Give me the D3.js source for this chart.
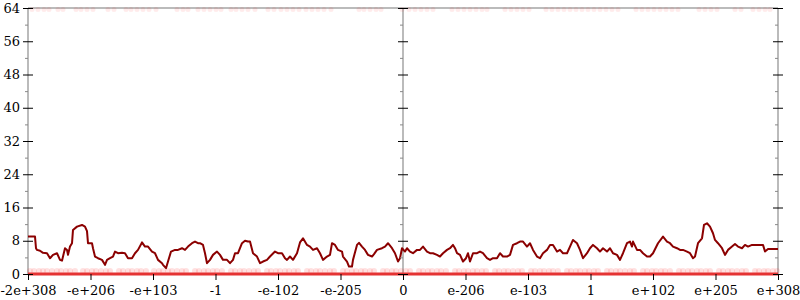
<!DOCTYPE html>
<html>
<head>
<meta charset="utf-8">
<script src="https://cdn.jsdelivr.net/npm/d3@7"></script>
<style>
  html, body { margin: 0; padding: 0; background: #fff; }
  svg { display: block; font-family: "DejaVu Serif", serif; }
</style>
</head>
<body>
<div class="chart"></div>
<script>
// tick positions along the bucket axis and their labels
const xTickPos = [0, 62.5, 125, 187.5, 250, 312.5, 375, 437.5, 500, 562.5, 625, 687.5, 750]
const xTickLabels = ['-2e+308','-e+206','-e+103','-1','-e-102','-e-205','0','e-206','e-103','1','e+102','e+205','e+308']
const yMajor = [0, 8, 16, 24, 32, 40, 48, 56, 64]
const yMinor = [4, 12, 20, 28, 36, 44, 52, 60]

// running count (dark red line)
const lineX = [
  0,7,8,9,12,15,19,22,25,29,
  32,34,37,39,40,42,44,45,49,54,
  57,59,60,64,65,67,70,74,77,79,
  82,85,87,90,94,97,100,104,107,110,
  114,117,120,124,127,130,134,135,138,140,
  143,147,150,154,157,160,164,167,170,172,
  175,177,179,182,185,189,192,195,199,202,
  205,207,210,214,217,220,222,225,229,232,
  235,239,242,247,250,254,257,259,262,265,
  269,272,275,279,282,285,289,292,295,299,
  302,304,307,310,314,315,319,321,324,325,
  329,331,334,337,340,344,346,349,354,357,
  360,364,367,370,372,374,377,379,382,385,
  389,392,395,399,402,405,409,412,415,419,
  422,425,427,429,432,435,438,440,442,445,
  449,452,455,459,462,465,469,472,475,479,
  482,485,489,492,495,499,502,505,509,512,
  515,519,522,525,529,532,535,539,542,545,
  549,552,555,559,562,565,569,572,575,579,
  582,585,589,592,595,599,602,604,605,609,
  612,615,619,622,625,630,635,639,642,645,
  649,652,655,659,662,665,667,670,674,676,
  679,682,685,687,690,694,697,700,704,707,
  710,714,717,720,724,727,732,735,737,740,
  745,750]
const lineY = [
  9.0,9.0,6.2,5.8,5.6,5.1,5.0,3.8,4.6,5.0,
  3.4,3.2,6.2,5.8,4.6,6.6,7.4,10.6,11.4,11.8,
  11.4,10.3,7.4,7.4,6.2,4.2,3.8,3.4,2.2,3.4,
  3.8,4.2,5.4,5.0,5.1,5.0,3.8,3.8,5.0,5.8,
  7.6,6.6,6.6,5.4,5.0,3.4,2.6,2.2,1.4,3.0,
  5.4,5.8,5.8,6.2,5.8,6.6,7.4,7.8,7.4,7.4,
  7.0,5.0,2.6,3.4,4.6,5.4,4.6,3.4,3.4,2.6,
  3.4,5.0,5.0,7.4,8.0,7.8,7.8,5.0,4.2,2.6,
  3.0,3.4,4.2,5.4,5.0,5.0,3.8,3.4,4.2,3.4,
  5.0,7.6,8.6,7.0,6.6,5.8,6.2,5.0,3.4,4.2,
  4.6,7.4,7.0,5.8,5.4,4.2,3.0,1.8,1.8,3.4,
  7.0,7.5,6.6,5.8,4.6,4.2,4.8,5.8,6.2,6.6,
  7.4,6.2,5.0,3.0,3.8,6.2,5.4,6.2,5.4,5.0,
  5.8,5.8,6.6,5.4,5.0,5.0,4.6,4.2,5.0,5.8,
  6.2,7.0,6.2,5.0,4.6,3.0,3.8,5.0,3.0,5.0,
  5.0,5.4,5.0,3.8,3.4,3.8,3.8,5.0,4.2,4.2,
  4.6,7.0,7.4,7.8,7.8,6.6,7.4,5.8,4.2,3.8,
  5.0,5.8,7.0,7.0,5.4,5.8,5.0,5.0,6.6,8.2,
  7.4,5.8,3.8,5.0,6.2,7.0,6.2,5.4,6.2,5.4,
  6.2,5.0,4.6,3.4,5.0,7.4,7.8,6.6,7.8,5.8,
  5.8,5.0,4.2,4.2,5.0,7.4,9.0,7.8,7.4,6.6,
  6.2,5.8,5.8,5.4,5.0,3.8,4.2,7.4,8.6,11.8,
  12.2,11.4,9.8,8.2,7.4,6.2,4.6,5.8,6.6,7.2,
  6.6,6.2,7.0,6.6,7.0,7.0,7.0,7.0,5.4,6.0,
  6.0,6.0]

// sample points sitting on 64 (top) and on 0 (bottom)
const topDots = [4,10,16,21,30,35,48,53,59,65,80,86,98,103,109,115,121,128,149,155,160,170,176,182,188,193,
  203,208,214,220,227,240,246,253,259,265,271,278,284,290,296,303,331,336,342,348,353,374,381,387,393,399,405,
  424,430,436,442,448,454,459,477,483,489,495,501,518,524,530,536,542,548,554,560,566,572,578,584,590,
  608,614,620,626,632,638,644,650,671,677,683,689,707,713,725,731,737,742]
const bottomDots = [2,6,11,15,19,24,29,33,38,42,47,55,59,64,68,73,78,82,91,95,100,104,109,113,118,126,131,135,
  140,144,149,154,158,167,171,176,180,185,189,194,203,207,212,216,221,226,230,239,243,248,252,257,261,266,270,
  279,283,288,292,297,302,306,315,319,324,328,333,337,342,346,355,359,364,368,373,378,382,391,395,400,404,409,
  413,418,427,431,436,440,445,449,454,458,467,471,476,480,485,490,494,503,507,512,516,521,525,530,539,543,548,
  552,557,561,566,570,579,583,588,592,597,602,606,615,619,624,628,633,637,642,651,655,660,664,669,673,678,682,
  691,695,700,704,709,714,718,727,731,736,740,745,749]

function createChart(){
  const w = 800
  const h = 300

  const svg = d3.select('.chart')
    .append('svg')
    .attr('width', w)
    .attr('height', h)

  const x = d3.scaleLinear().domain([0, 750]).range([28, 778])
  const y = d3.scaleLinear().domain([0, 64]).range([274, 8])

  // frame lines: top edge, bottom edge, three vertical axes
  const gray = '#bbb'
  svg.append('line')
    .attr('x1', x(0)).attr('x2', x(750))
    .attr('y1', y(64)).attr('y2', y(64))
    .attr('stroke', gray).attr('stroke-width', 2)
  svg.append('line')
    .attr('x1', x(0)).attr('x2', x(750))
    .attr('y1', y(0)).attr('y2', y(0))
    .attr('stroke', gray).attr('stroke-width', 2)
  const vAxes = [0, 375, 750]
  svg.selectAll('line.vaxis')
    .data(vAxes)
    .enter()
    .append('line')
    .attr('class', 'vaxis')
    .attr('x1', d => x(d)).attr('x2', d => x(d))
    .attr('y1', y(64)).attr('y2', y(0))
    .attr('stroke', gray).attr('stroke-width', 2)

  // samples
  svg.append('g')
    .selectAll('circle')
    .data(topDots)
    .enter()
    .append('circle')
    .attr('cx', d => x(d))
    .attr('cy', y(64) + 1.5)
    .attr('r', 2.5)
    .attr('fill', 'red')
    .attr('fill-opacity', 0.08)

  svg.append('g')
    .selectAll('circle')
    .data(bottomDots)
    .enter()
    .append('circle')
    .attr('cx', d => x(d))
    .attr('cy', y(0) - 3)
    .attr('r', 3)
    .attr('fill', 'red')
    .attr('fill-opacity', 0.12)

  svg.append('line')
    .attr('x1', x(0)).attr('x2', x(750))
    .attr('y1', y(0)).attr('y2', y(0))
    .attr('stroke', '#e53333').attr('stroke-width', 3)

  // running count
  const pts = lineX.map((d, i) => [d, lineY[i]])
  svg.append('path')
    .datum(pts)
    .attr('d', d3.line().x(d => x(d[0])).y(d => y(d[1])))
    .attr('fill', 'none')
    .attr('stroke', '#8b0000')
    .attr('stroke-width', 2)
    .attr('stroke-linejoin', 'round')

  // vertical axes: ticks on both sides
  vAxes.forEach((v, k) => {
    const left = svg.append('g').attr('transform', `translate(${x(v)},0)`)
    left.call(d3.axisLeft(y).tickValues(yMinor).tickSize(3).tickFormat(''))
    left.call(g => g.selectAll('line').attr('stroke', '#888'))
    const left2 = svg.append('g').attr('transform', `translate(${x(v)},0)`)
    left2.call(d3.axisLeft(y).tickValues(yMajor).tickSize(5).tickPadding(3)
      .tickFormat(k === 0 ? d3.format('d') : ''))
    const right = svg.append('g').attr('transform', `translate(${x(v)},0)`)
    right.call(d3.axisRight(y).tickValues(yMinor).tickSize(3).tickFormat(''))
    right.call(g => g.selectAll('line').attr('stroke', '#888'))
    right.call(d3.axisRight(y).tickValues(yMajor).tickSize(5).tickFormat(''))
  })

  // bottom axis
  svg.append('g')
    .attr('transform', `translate(0,${y(0)})`)
    .call(d3.axisBottom(x).tickValues(xTickPos).tickSize(6).tickPadding(6)
      .tickFormat((d, i) => xTickLabels[i]))

  svg.selectAll('.domain').remove()
  svg.selectAll('.tick text')
    .attr('font-family', '"DejaVu Serif", serif')
    .attr('font-size', 13)
    .attr('fill', '#000')
}

createChart()
</script>
</body>
</html>
